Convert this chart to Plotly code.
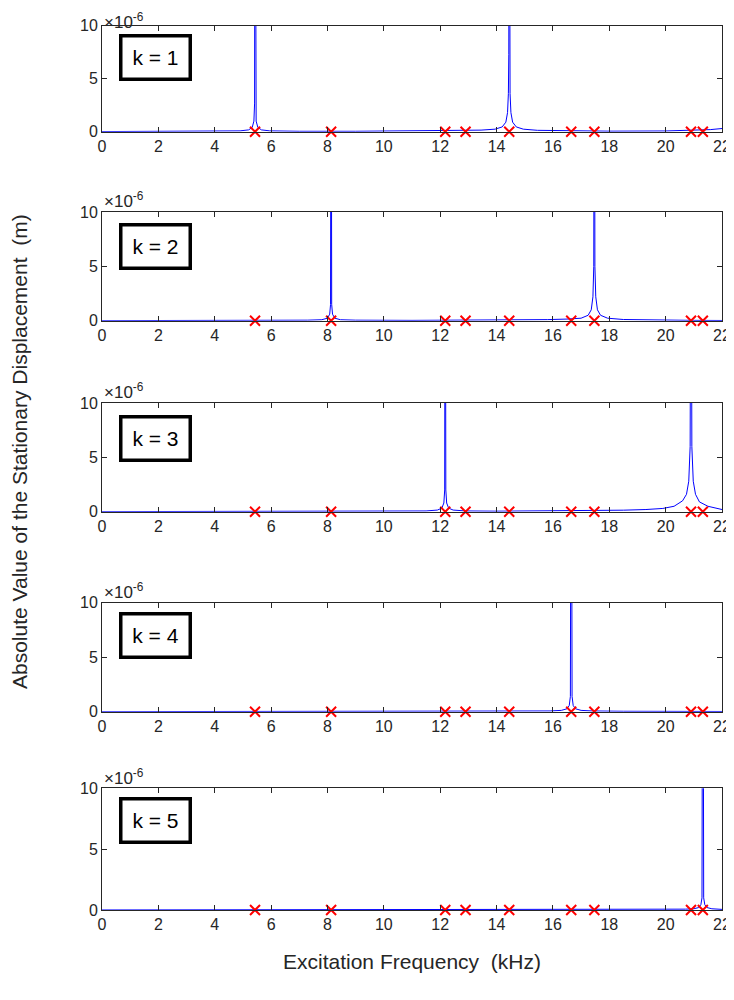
import plotly.graph_objects as go

# Natural frequencies (kHz) marked with red crosses on every panel
natural_freqs = [5.43, 8.13, 12.18, 12.9, 14.45, 16.65, 17.47, 20.9, 21.32]

# Response curves (amplitude in units of 1e-6 m)
freq_k1 = [0, 2, 4, 4.9, 5.2, 5.33, 5.39, 5.415, 5.43, 5.445, 5.47, 5.53, 5.66, 5.95, 7, 9, 11,
           12.5, 13.45, 13.95, 14.2, 14.33, 14.39, 14.42, 14.435, 14.45, 14.465, 14.48, 14.51,
           14.57, 14.7, 14.95, 15.45, 16.5, 18, 20, 21, 21.6, 22]
amp_k1 = [0.01, 0.015, 0.03, 0.08, 0.17, 0.4, 1.0, 2.7, 40, 2.7, 1.0, 0.4, 0.17, 0.08, 0.04, 0.04, 0.06,
          0.09, 0.15, 0.24, 0.45, 0.9, 1.8, 3.6, 7.3, 40, 7.3, 3.6, 1.8,
          0.9, 0.45, 0.24, 0.13, 0.07, 0.05, 0.07, 0.12, 0.2, 0.3]

freq_k2 = [0, 3, 6, 7.3, 7.8, 8.0, 8.08, 8.11, 8.13, 8.15, 8.18, 8.26, 8.46, 9, 11, 13, 14.5,
           15.8, 16.5, 17.0, 17.25, 17.36, 17.42, 17.45, 17.47, 17.49, 17.52, 17.58, 17.69,
           17.94, 18.5, 19.5, 21, 22]
amp_k2 = [0.005, 0.01, 0.03, 0.05, 0.09, 0.23, 0.6, 1.5, 40, 1.5, 0.6, 0.23, 0.09, 0.05, 0.03, 0.04, 0.06,
          0.1, 0.15, 0.23, 0.5, 1.0, 2.2, 5, 40, 5, 2.2, 1.0, 0.5,
          0.23, 0.11, 0.06, 0.03, 0.02]

freq_k3 = [0, 4, 8, 10.5, 11.5, 11.9, 12.06, 12.13, 12.16, 12.18, 12.20, 12.23, 12.30, 12.46, 12.9,
           14, 16, 17.5, 18.5, 19.3, 19.9, 20.3, 20.6, 20.74, 20.82, 20.87, 20.9, 20.93, 20.98,
           21.06, 21.2, 21.5, 21.8, 22]
amp_k3 = [0.005, 0.01, 0.02, 0.04, 0.07, 0.15, 0.33, 0.8, 2, 40, 2, 0.8, 0.33, 0.15, 0.07,
          0.05, 0.07, 0.1, 0.14, 0.2, 0.3, 0.5, 1.0, 1.6, 2.8, 6, 40, 6, 2.8,
          1.6, 0.9, 0.5, 0.3, 0.2]

freq_k4 = [0, 5, 10, 13, 15, 15.9, 16.3, 16.5, 16.58, 16.62, 16.65, 16.68, 16.72, 16.8, 17.0,
           17.4, 18.5, 20, 22]
amp_k4 = [0.003, 0.006, 0.012, 0.02, 0.04, 0.07, 0.12, 0.27, 0.57, 1.4, 40, 1.4, 0.57, 0.27, 0.12,
          0.07, 0.04, 0.03, 0.02]

freq_k5 = [0, 6, 12, 16, 18.5, 20, 20.7, 21.0, 21.17, 21.25, 21.29, 21.32, 21.35, 21.39, 21.47,
           21.64, 22]
amp_k5 = [0.002, 0.004, 0.008, 0.015, 0.025, 0.04, 0.07, 0.1, 0.2, 0.43, 1, 40, 1, 0.43, 0.2,
          0.1, 0.05]

panel_labels = ["k = 1", "k = 2", "k = 3", "k = 4", "k = 5"]
x_ticks = [0, 2, 4, 6, 8, 10, 12, 14, 16, 18, 20, 22]
y_ticks = [0, 5, 10]

freqs = [freq_k1, freq_k2, freq_k3, freq_k4, freq_k5]
amps = [amp_k1, amp_k2, amp_k3, amp_k4, amp_k5]

OFF = 8  # page body margin
W, H = 726, 984
ML = 102 - OFF
MR = W - (722 - OFF)
PW = W - ML - MR
# panel pixel extents in the screenshot (top, bottom)
panels_px = [(25.7, 131.7), (212.0, 320.7), (403.0, 511.7), (602.7, 711.7), (788.3, 910.0)]
box_offset = [32.3, 34.5, 35.6, 33.0, 32.0]


def py(px):
    return 1 - (px - OFF) / H


def pxx(px):
    return (px - OFF - ML) / PW


AX = "#262626"
FONT = "Liberation Sans, Arial, sans-serif"
fig = go.Figure()
annotations = []
layout = dict(
    width=W, height=H,
    margin=dict(l=ML, r=MR, t=0, b=0),
    paper_bgcolor="white", plot_bgcolor="white",
    showlegend=False,
    font=dict(family=FONT, color=AX, size=16),
)

for i in range(5):
    n = "" if i == 0 else str(i + 1)
    xa, ya = "x" + n, "y" + n
    top, bot = panels_px[i]
    fig.add_trace(go.Scatter(x=freqs[i], y=amps[i], mode="lines",
                             line=dict(color="#0000FF", width=1),
                             xaxis=xa, yaxis=ya, hoverinfo="skip"))
    fig.add_trace(go.Scatter(x=natural_freqs, y=[0] * len(natural_freqs), mode="markers",
                             marker=dict(symbol="x-thin", size=10, color="red",
                                         line=dict(color="#FF0000", width=2)),
                             xaxis=xa, yaxis=ya, cliponaxis=False, hoverinfo="skip"))
    layout["xaxis" + n] = dict(
        domain=[0, 1], anchor=ya, range=[0, 22], tickvals=x_ticks,
        ticks="inside", ticklen=5, tickcolor=AX, tickwidth=1,
        showline=True, linecolor=AX, linewidth=1, mirror="ticks",
        showgrid=False, zeroline=False, automargin=False,
        tickfont=dict(size=16, color=AX, family=FONT),
    )
    layout["yaxis" + n] = dict(
        domain=[py(bot), py(top)], anchor=xa, range=[0, 10], tickvals=y_ticks,
        ticks="inside", ticklen=5, tickcolor=AX, tickwidth=1,
        showline=True, linecolor=AX, linewidth=1, mirror="ticks",
        showgrid=False, zeroline=False, automargin=False,
        tickfont=dict(size=16, color=AX, family=FONT),
    )
    # exponent label
    annotations.append(dict(
        text="×10<sup>-6</sup>", xref="paper", yref="paper",
        x=pxx(102), y=min(1.0, py(top - 24.5)), xanchor="left", yanchor="top",
        showarrow=False, font=dict(size=17, color=AX, family=FONT),
    ))
    # panel label box
    cy = top + box_offset[i]
    annotations.append(dict(
        text=panel_labels[i], xref="paper", yref="paper",
        x=pxx(155), y=py(cy),
        xanchor="center", yanchor="middle", showarrow=False,
        font=dict(size=21, color="black", family=FONT),
        bordercolor="black", borderwidth=3.5, borderpad=0,
        bgcolor="white", width=66, height=40,
    ))

annotations.append(dict(
    text="Excitation Frequency &nbsp;(kHz)", xref="paper", yref="paper",
    x=pxx(412), y=py(961), xanchor="center", yanchor="middle",
    showarrow=False, font=dict(size=21, color=AX, family=FONT),
))
annotations.append(dict(
    text="Absolute Value of the Stationary Displacement &nbsp;(m)", xref="paper", yref="paper",
    x=pxx(20), y=py(452), xanchor="center", yanchor="middle",
    textangle=-90, showarrow=False, font=dict(size=21, color=AX, family=FONT),
))
layout["annotations"] = annotations
fig.update_layout(**layout)
fig.write_html("out.html")
